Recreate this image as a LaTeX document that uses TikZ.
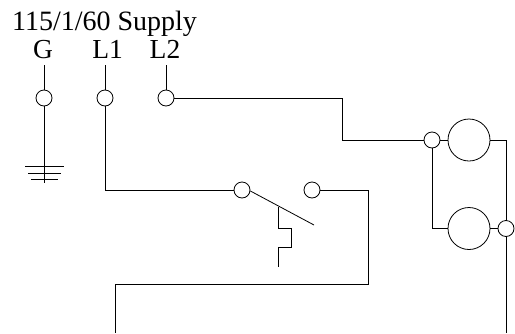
\documentclass[tikz,border=0pt]{standalone}
\usepackage{fontspec}
\setmainfont{Liberation Serif}
\begin{document}
\begin{tikzpicture}[x=1pt,y=-1pt,line width=0.8pt,
  term/.style={circle,draw,inner sep=0pt,minimum size=16pt},
  motor/.style={circle,draw,inner sep=0pt,minimum size=42pt},
  lbl/.style={anchor=base,inner sep=0pt,font=\fontsize{27.5}{30}\selectfont}]
\useasboundingbox (0,0) rectangle (515,333);
\node[lbl,font=\fontsize{28}{30}\selectfont] (title) at (104.5,30) {115/1/60 Supply};
\node[lbl] (g) at (43,58) {G};
\node[lbl] (la) at (107.7,58) {L1};
\node[lbl] (lb) at (165,58) {L2};
\node[term] (tg) at (44,98) {};
\node[term] (tl1) at (105,98) {};
\node[term] (tl2) at (166,98) {};
\node[term] (sl) at (242,190) {};
\node[term] (sr) at (312,190) {};
\node[term] (ja) at (432,140) {};
\node[term] (jb) at (506,228.5) {};
\node[motor] (ma) at (469,140) {};
\node[motor] (mb) at (469,228.5) {};
\coordinate (g0) at (44,65);
\coordinate (l10) at (105,65);
\coordinate (l20) at (166,65);
\coordinate (gnd) at (44,183);
\coordinate (ba) at (25,166);
\coordinate (bb) at (64,166);
\coordinate (bc) at (28,173);
\coordinate (bd) at (61,173);
\coordinate (be) at (31,179);
\coordinate (bf) at (58,179);
\coordinate (blade) at (314,225);
\coordinate (th) at (278,206.5);
\coordinate (botl) at (115,333);
\coordinate (botr) at (506,333);
\draw (g0) -- (tg);
\draw (l10) -- (tl1);
\draw (l20) -- (tl2);
\draw (tg) -- (gnd);
\draw (ba) -- (bb);
\draw (bc) -- (bd);
\draw (be) -- (bf);
\draw (tl1) -- (105,190) -- (sl);
\draw (tl2) -- (342,98) -- (342,140) -- (ja);
\draw (ja) -- (ma);
\draw (ma) -- (506,140) -- (jb);
\draw (ja) -- (432,228.5) -- (mb);
\draw (mb) -- (jb);
\draw (jb) -- (botr);
\draw (sr) -- (368,190) -- (368,284) -- (115,284) -- (botl);
\draw (sl.east) ++(0,1) -- (blade);
\draw (th) -- (278,228) -- (291,228) -- (291,247) -- (278,247) -- (278,267);
\end{tikzpicture}
\end{document}
